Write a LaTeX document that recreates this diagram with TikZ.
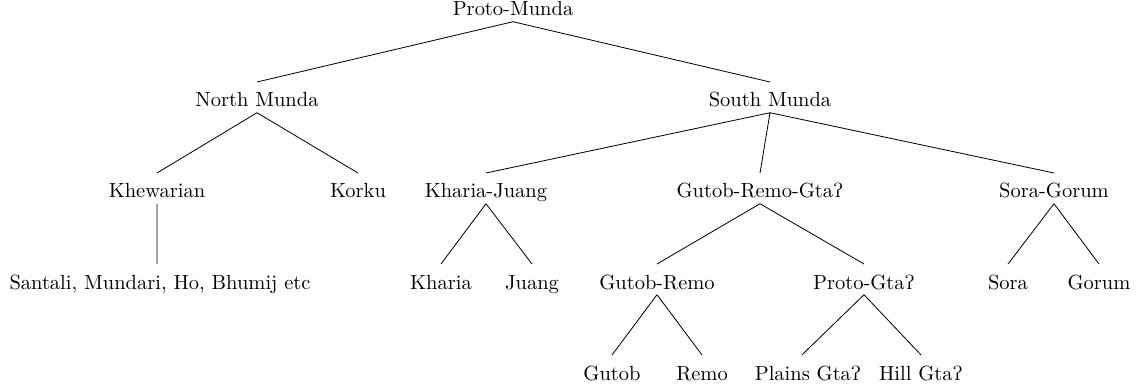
\documentclass[tikz,border=0pt]{standalone}
\usepackage{amsmath}
\usepackage{tipa}
\usepackage{tikz}

\newcommand{\gst}{\textglotstop}

\begin{document}
\begin{tikzpicture}[x=0.488pt,y=-0.488pt]
  \tikzset{lang/.style={anchor=base,text height=9.4pt,text depth=0pt,inner xsep=0pt,inner ysep=2.6pt}}
  \useasboundingbox (0,0) rectangle (1136,387);
    \node [lang] (pm) at (513,16) {Proto-Munda};
    \node [lang] (nm) at (257,107) {North Munda};
    \node [lang] (sm) at (770,107) {South Munda};
    \node [lang] (khew) at (157,198) {Khewarian};
    \node [lang] (korku) at (358,198) {Korku};
    \node [lang] (kj) at (486,198) {Kharia-Juang};
    \node [lang] (grg) at (760,198) {Gutob-Remo-Gta\gst};
    \node [lang] (sg) at (1054,198) {Sora-Gorum};
    \node [lang] (sant) at (160,289) {Santali, Mundari, Ho, Bhumij etc};
    \node [lang] (kharia) at (441,289) {Kharia};
    \node [lang] (juang) at (532,289) {Juang};
    \node [lang] (gr) at (657,289) {Gutob-Remo};
    \node [lang] (pg) at (864,289) {Proto-Gta\gst};
    \node [lang] (sora) at (1008,289) {Sora};
    \node [lang] (gorum) at (1099,289) {Gorum};
    \node [lang] (gutob) at (612,380) {Gutob};
    \node [lang] (remo) at (702,380) {Remo};
    \node [lang] (plains) at (808,380) {Plains Gta\gst};
    \node [lang] (hill) at (921,380) {Hill Gta\gst};
    \draw (pm.south) -- (nm.north) (pm.south) -- (sm.north)
          (nm.south) -- (khew.north) (nm.south) -- (korku.north)
          (khew.south) -- (khew.south |- sant.north)
          (sm.south) -- (kj.north) (sm.south) -- (grg.north) (sm.south) -- (sg.north)
          (kj.south) -- (kharia.north) (kj.south) -- (juang.north)
          (grg.south) -- (gr.north) (grg.south) -- (pg.north)
          (sg.south) -- (sora.north) (sg.south) -- (gorum.north)
          (gr.south) -- (gutob.north) (gr.south) -- (remo.north)
          (pg.south) -- ([xshift=-3pt]plains.north) (pg.south) -- (hill.north);
\end{tikzpicture}
\end{document}
